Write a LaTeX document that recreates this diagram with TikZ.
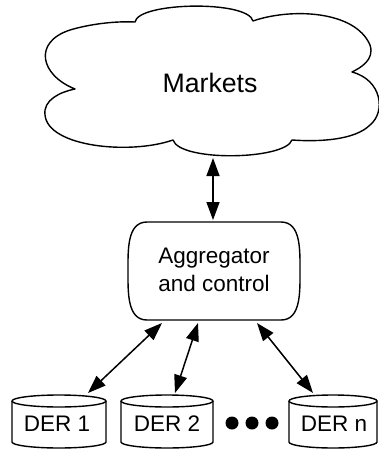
\documentclass[tikz,border=0pt]{standalone}
\usepackage{fontspec}
\setmainfont{Liberation Sans}
\usetikzlibrary{arrows.meta}
\newcommand\dercyl[2]{%
  \draw[outline] (#1,401) ellipse[x radius=#2, y radius=6];
  \draw[outline] ({#1-#2},401) -- ({#1-#2},442)
     arc[start angle=180, end angle=0, x radius=#2, y radius=6] -- ({#1+#2},401);
}
\begin{document}
\begin{tikzpicture}[x=1pt,y=-1pt,
  outline/.style={line width=1.4pt, line join=round},
  link/.style={line width=1.5pt, {Triangle[length=18pt,width=13pt]}-{Triangle[length=18pt,width=13pt]}},
  lbl/.style={font=\fontsize{22.5}{28}\selectfont, align=center, inner sep=0pt},
  dotmark/.style={circle, fill=black, minimum size=13pt, inner sep=0pt},
]
\useasboundingbox (0,0) rectangle (378,450);

% cloud
\draw[outline] (75,89)
  .. controls (40,75) and (33,42) .. (70,30)
  .. controls (90,24) and (115,21) .. (135,22)
  .. controls (138,2) and (248,0) .. (253,21)
  .. controls (290,8) and (355,10) .. (370,45)
  .. controls (375,60) and (360,68) .. (352,72)
  .. controls (382,80) and (386,112) .. (370,125)
  .. controls (355,140) and (320,142) .. (292,140)
  .. controls (285,160) and (180,162) .. (173,140)
  .. controls (130,155) and (48,147) .. (45,115)
  .. controls (43,100) and (60,92) .. (75,89) -- cycle;
\node[lbl, font=\fontsize{26.7}{30}\selectfont] (mk) at (210,83) {Markets};

% aggregator
\draw[outline] (147,222) -- (281,222)
  .. controls (301,222) and (300,250) .. (300,271)
  .. controls (300,292) and (301,320) .. (281,320)
  -- (147,320)
  .. controls (127,320) and (128,292) .. (128,271)
  .. controls (128,250) and (127,222) .. (147,222) -- cycle;
\node[lbl] (agg) at (214,270) {Aggregator\\and control};

% DER cylinders
\dercyl{59}{47}
\dercyl{167}{46}
\dercyl{333}{44}
\node[lbl] (d1) at (57,424) {DER 1};
\node[lbl] (d2) at (167,424) {DER 2};
\node[lbl] (dn) at (334,424) {DER n};

\node[dotmark] (p1) at (232,423) {};
\node[dotmark] (p2) at (252,423) {};
\node[dotmark] (p3) at (272,423) {};

% connector endpoints
\coordinate (mkb) at (213,158);
\coordinate (aggt) at (213,220);
\coordinate (ab1) at (162,323);
\coordinate (ab2) at (198,323);
\coordinate (abn) at (257,323);
\coordinate (t1) at (88,393);
\coordinate (t2) at (175,393);
\coordinate (tn) at (313,393);

\draw[link] (mkb) -- (aggt);
\draw[link] (ab1) -- (t1);
\draw[link] (ab2) -- (t2);
\draw[link] (abn) -- (tn);
\end{tikzpicture}
\end{document}
